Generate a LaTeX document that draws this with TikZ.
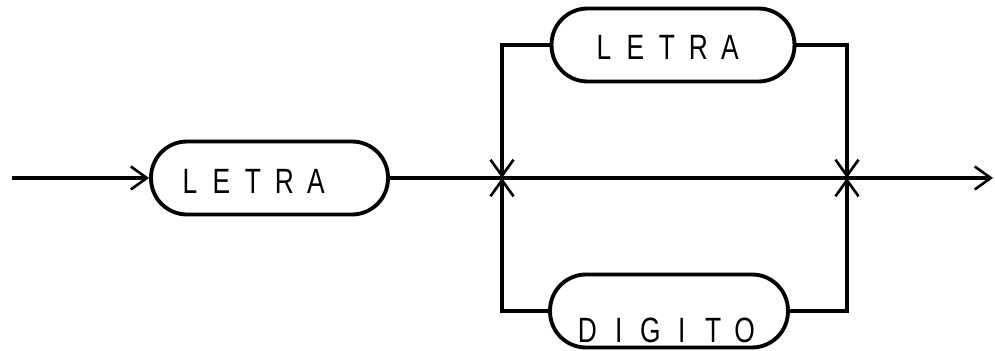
\documentclass[tikz,border=0pt]{standalone}
\usepackage{fontspec}
\newfontfamily\plotfont[FakeStretch=0.75]{Liberation Sans}
\usetikzlibrary{arrows.meta}
\newcommand{\ltr}[1]{\makebox[0.63cm]{#1}}
\tikzset{
  railbox/.style={draw, line width=2.2pt, rounded corners=0.72cm, minimum width=#1, minimum height=1.46cm, inner sep=0pt},
  railtext/.style={font=\plotfont\fontsize{20}{24}\selectfont, inner sep=0pt},
  rail/.style={line width=2.4pt},
  tipto/.style={-{Straight Barb[length=0.32cm, width=0.46cm, line width=1.5pt]}},
}
\begin{document}
\begin{tikzpicture}[x=0.02cm, y=-0.02cm]
\useasboundingbox (0,0) rectangle (995,351);
% boxes
\node[railbox=4.74cm] (lB) at (269.5,178) {};
\node[railbox=4.86cm] (uB) at (673,45) {};
\node[railbox=4.76cm] (dB) at (669,311) {};
% texts
\node[railtext] (lT) at (253,181) {\ltr{L}\ltr{E}\ltr{T}\ltr{R}\ltr{A}};
\node[railtext] (uT) at (667,47) {\ltr{L}\ltr{E}\ltr{T}\ltr{R}\ltr{A}};
\node[railtext] (dT) at (666,330) {\ltr{D}\ltr{I}\ltr{G}\ltr{I}\ltr{T}\ltr{O}};
% coordinates
\coordinate (start) at (12,178);
\coordinate (stop) at (993,178);
\coordinate (jL) at (502,178);
\coordinate (jR) at (847,178);
\coordinate (tL) at (502,45);
\coordinate (tR) at (847,45);
\coordinate (bL) at (502,311);
\coordinate (bR) at (847,311);
% main line
\draw[rail, tipto] (start) -- (lB.west);
\draw[rail] (lB.east) -- (jL) -- (jR);
\draw[rail, tipto] (jR) -- (stop);
% branches
\draw[rail, tipto] (uB.west) -- (tL) -- (jL);
\draw[rail, tipto] (dB.west) -- (bL) -- (jL);
\draw[rail, tipto] (uB.east) -- (tR) -- (jR);
\draw[rail, tipto] (dB.east) -- (bR) -- (jR);
\end{tikzpicture}
\end{document}
